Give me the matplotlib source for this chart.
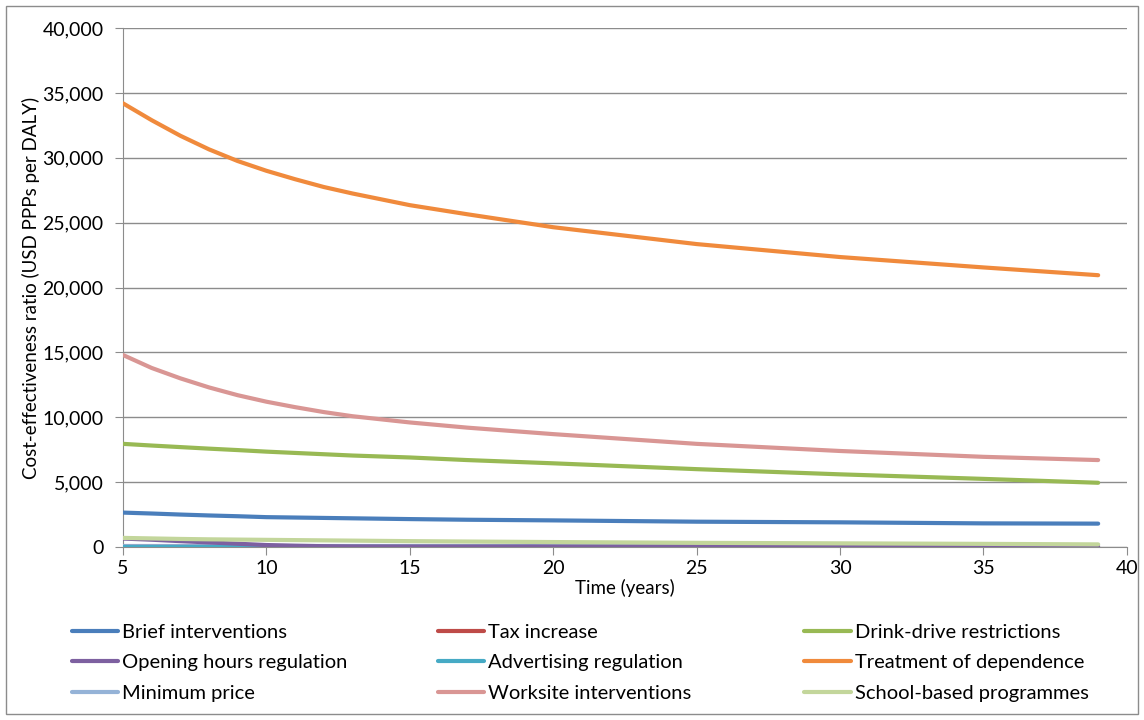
import matplotlib
matplotlib.use("Agg")
import matplotlib.pyplot as plt
from matplotlib.patches import Rectangle

plt.rcParams['font.family'] = ['Lato', 'DejaVu Sans']

years = [5, 6, 7, 8, 9, 10, 11, 12, 13, 15, 17, 20, 25, 30, 35, 39]

brief = [2650, 2580, 2500, 2430, 2370, 2300, 2270, 2240, 2210, 2150, 2100, 2050, 1950, 1900, 1820, 1800]
tax = [20] * 16
drink = [7950, 7820, 7700, 7580, 7470, 7350, 7250, 7150, 7050, 6900, 6700, 6450, 6000, 5600, 5250, 4950]
opening = [650, 560, 450, 350, 250, 150, 100, 60, 40, 30, 30, 30, 30, 30, 30, 30]
advertising = [10] * 16
treatment = [34200, 32900, 31700, 30650, 29750, 29000, 28350, 27750, 27250, 26350, 25650, 24650, 23350, 22350, 21550, 20950]
minimum = [60] * 16
worksite = [14800, 13800, 13000, 12300, 11700, 11200, 10780, 10400, 10080, 9600, 9200, 8700, 7950, 7400, 6950, 6700]
school = [700, 660, 620, 590, 570, 550, 530, 510, 490, 450, 420, 380, 320, 280, 240, 200]

series = [
    ("Brief interventions", brief, "#4A7EBB"),
    ("Tax increase", tax, "#BE4B48"),
    ("Drink-drive restrictions", drink, "#98B954"),
    ("Opening hours regulation", opening, "#7D60A0"),
    ("Advertising regulation", advertising, "#46AAC5"),
    ("Treatment of dependence", treatment, "#F08A3C"),
    ("Minimum price", minimum, "#95B3D7"),
    ("Worksite interventions", worksite, "#D99694"),
    ("School-based programmes", school, "#C3D69B"),
]

fig = plt.figure(figsize=(11.44, 7.2), dpi=100)
ax = fig.add_axes([0.1075, 0.2403, 0.8775, 0.7207])

draw_order = ["Minimum price", "Tax increase", "Advertising regulation", "Opening hours regulation",
              "School-based programmes", "Brief interventions", "Drink-drive restrictions",
              "Worksite interventions", "Treatment of dependence"]
handles = {}
for name, vals, col in series:
    z = 3 + draw_order.index(name)
    ln, = ax.plot(years, vals, color=col, lw=3, label=name, zorder=z, solid_capstyle='round')
    handles[name] = ln

ax.set_xlim(5, 40)
ax.set_ylim(0, 40000)
ax.set_xticks(range(5, 41, 5))
ax.set_yticks(range(0, 40001, 5000))
ax.set_yticklabels([f"{v:,}" for v in range(0, 40001, 5000)])
ax.grid(axis='y', color='#8c8c8c', lw=1)
ax.set_axisbelow(True)
for s in ['top', 'right']:
    ax.spines[s].set_visible(False)
for s in ['left', 'bottom']:
    ax.spines[s].set_color('#8c8c8c')
ax.tick_params(axis='both', colors='#8c8c8c', labelcolor='black', labelsize=14, length=6, direction='out')
ax.tick_params(axis='y', pad=8)
ax.set_xlabel("Time (years)", fontsize=13.5, labelpad=1)
ax.set_ylabel("Cost-effectiveness ratio (USD PPPs per DALY)", fontsize=13.5, labelpad=2)

col_x = [0.063, 0.383, 0.703]
for c in range(3):
    names = [series[r * 3 + c][0] for r in range(3)]
    leg = fig.legend([handles[n] for n in names], names, loc='upper left',
                     bbox_to_anchor=(col_x[c], 0.134), frameon=False, fontsize=14.5,
                     handlelength=2.3, handletextpad=0.2, labelspacing=0.68,
                     borderaxespad=0, borderpad=0)

fig.patches.append(Rectangle((0.005, 0.008), 0.99, 0.984, transform=fig.transFigure,
                             fill=False, edgecolor='#8c8c8c', lw=1))

fig.savefig("out.png", dpi=100)
